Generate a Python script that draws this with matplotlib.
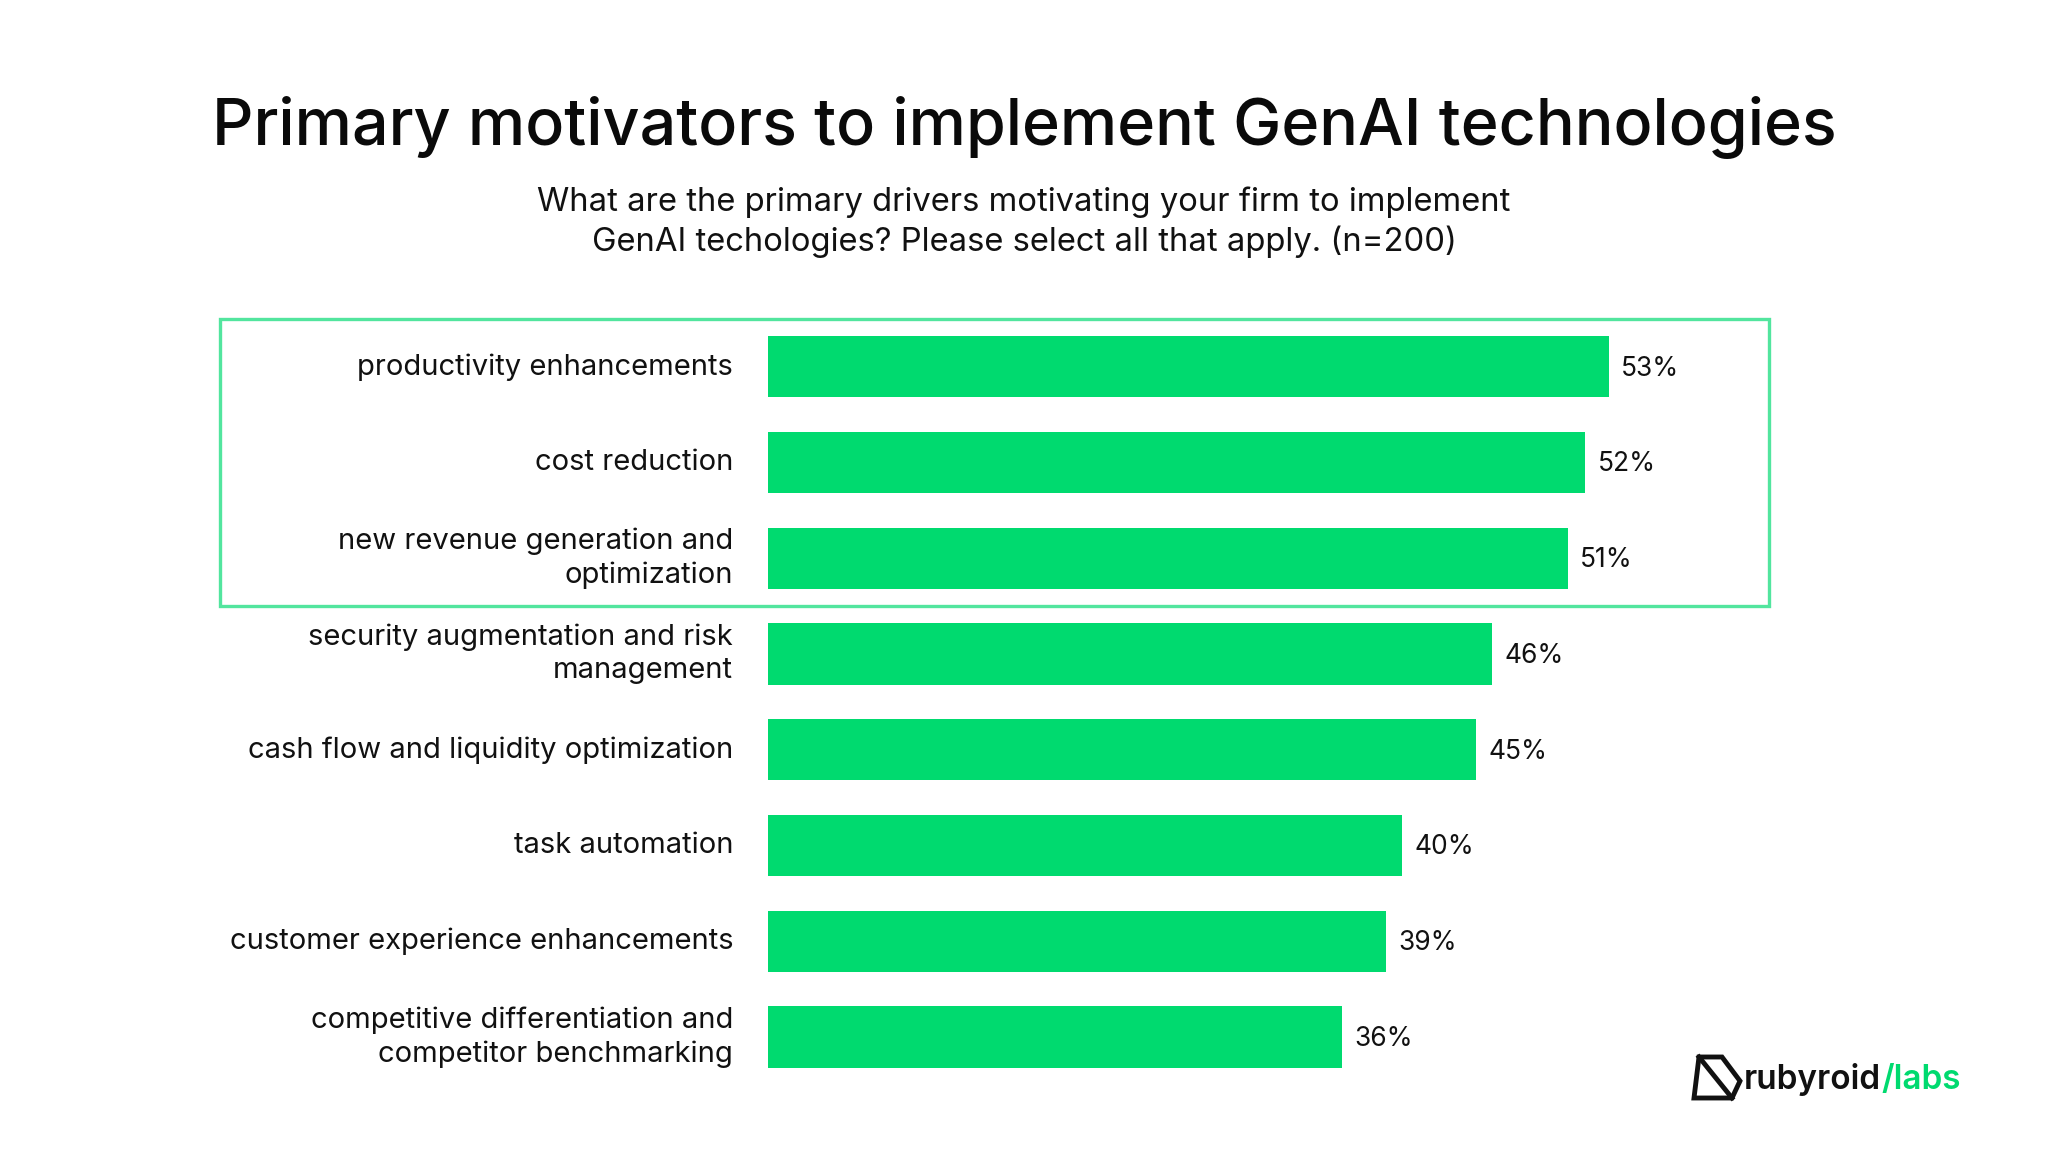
import matplotlib
matplotlib.use("Agg")
import matplotlib.pyplot as plt
from matplotlib.patches import Rectangle, Polygon
import matplotlib.transforms as mtransforms

categories = [
    "productivity enhancements",
    "cost reduction",
    "new revenue generation and\noptimization",
    "security augmentation and risk\nmanagement",
    "cash flow and liquidity optimization",
    "task automation",
    "customer experience enhancements",
    "competitive differentiation and\ncompetitor benchmarking",
]
# bar lengths as drawn (unrounded) and the printed labels
values = [53.2, 51.7, 50.6, 45.8, 44.8, 40.1, 39.1, 36.3]
value_labels = ["53%", "52%", "51%", "46%", "45%", "40%", "39%", "36%"]
highlighted = 3  # top rows inside the box

title = "Primary motivators to implement GenAI technologies"
subtitle = ("What are the primary drivers motivating your firm to implement\n"
            "GenAI techologies? Please select all that apply. (n=200)")

bar_color = "#00DA6F"
box_color = "#52E59E"
font = ["Inter", "DejaVu Sans"]
plt.rcParams['font.family'] = font

fig = plt.figure(figsize=(20.48, 11.52), dpi=100)
ax = fig.add_axes([0.375, 0.0582, 0.4888, 0.665])

ypos = list(range(len(categories)))
ax.barh(ypos, values, height=0.64, color=bar_color)
ax.set_xlim(0, 63.35)
ax.set_ylim(len(categories) - 0.5, -0.5)
ax.axis("off")

for y, v, vl, lab in zip(ypos, values, value_labels, categories):
    ax.text(v + 0.8, y + 0.02, vl, va="center", ha="left", fontsize=19, color="#111111")
    ax.text(-2.2, y, lab, va="center", ha="right", fontsize=21, color="#111111",
            linespacing=1.28)

# highlight box around the top rows
trans = mtransforms.blended_transform_factory(fig.transFigure, ax.transData)
box = Rectangle((220 / 2048, -0.5), (1769 - 220) / 2048, highlighted,
                transform=trans, fill=False, edgecolor=box_color, lw=2.4, clip_on=False)
ax.add_patch(box)

fig.text(0.5, 0.889, title, ha="center", va="center", fontsize=46.5,
         fontweight="medium", color="#0a0a0a")
fig.text(0.5, 0.807, subtitle, ha="center", va="center", fontsize=23.6,
         color="#111111", linespacing=1.3)

# logo
ix = lambda px: px / 2048
iy = lambda py: 1 - py / 1152
icon = Polygon([[ix(1699), iy(1057)], [ix(1722), iy(1057)], [ix(1740), iy(1081)],
                [ix(1732), iy(1098)], [ix(1694), iy(1098)]],
               closed=True, fill=False, edgecolor="#111111", lw=3.5,
               transform=fig.transFigure)
fig.patches.append(icon)
fig.lines.append(plt.Line2D([ix(1699), ix(1732)], [iy(1057), iy(1098)],
                            transform=fig.transFigure, color="#111111", lw=3.5))
fig.text(ix(1881), iy(1080), "rubyroid", ha="right", va="center", fontsize=24,
         color="#111111", fontweight="semibold")
fig.text(ix(1881), iy(1080), "/labs", ha="left", va="center", fontsize=24,
         color=bar_color, fontweight="semibold")

fig.savefig("out.png", dpi=100, facecolor="white")
